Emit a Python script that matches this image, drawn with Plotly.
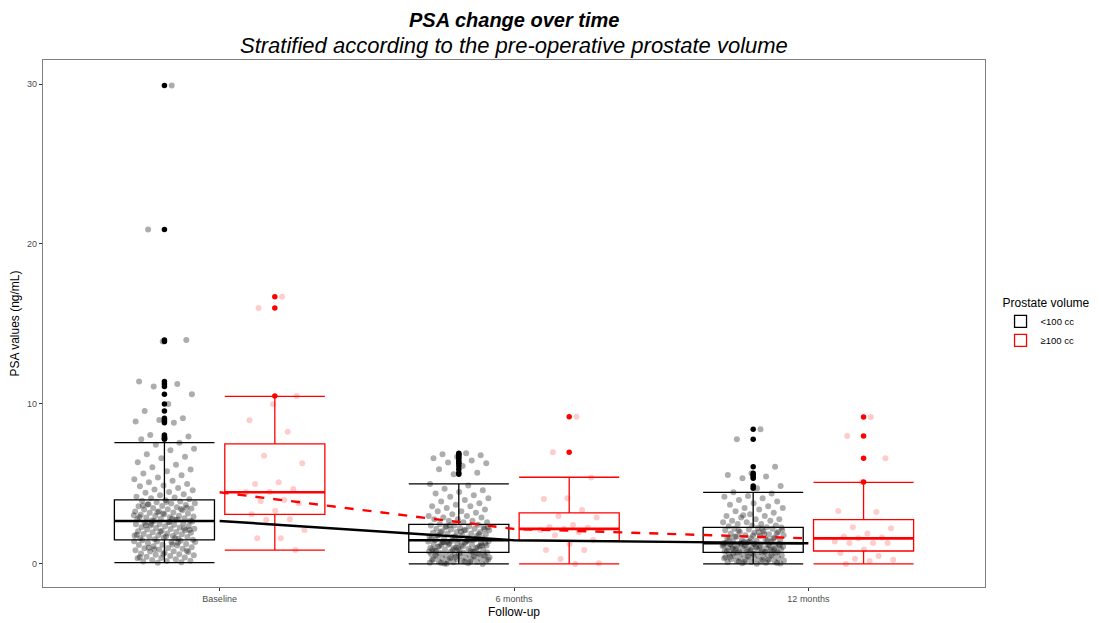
import plotly.graph_objects as go

# ---------------- data ----------------
categories = ["Baseline", "6 months", "12 months"]
groups = ["<100 cc", "≥100 cc"]

# box statistics (per time point)
small_q1 = [1.5, 0.73, 0.73]
small_median = [2.69, 1.48, 1.29]
small_q3 = [4.0, 2.48, 2.29]
small_low = [0.08, 0.0, 0.0]
small_high = [7.58, 5.0, 4.48]

large_q1 = [3.1, 1.46, 0.81]
large_median = [4.48, 2.19, 1.6]
large_q3 = [7.5, 3.19, 2.77]
large_low = [0.87, 0.0, 0.0]
large_high = [10.48, 5.42, 5.1]

# individual PSA values (ng/mL)
small_baseline = [
    29.9, 20.9, 14.0, 13.9, 11.4, 11.25, 11.1, 10.6, 10.0, 9.56, 9.1, 9.0, 8.9, 8.83, 8.06, 7.96, 7.85, 7.8,
    7.58, 7.45, 7.2, 7.1, 6.85, 6.7, 6.6, 6.35, 6.2, 6.05, 5.9, 5.8, 5.65, 5.55, 5.4, 5.3, 5.2, 5.1, 5.0,
    4.9, 4.85, 4.75, 4.65, 4.6, 4.5, 4.45, 4.35, 4.3, 4.2, 4.15, 4.1, 4.05,
    3.98, 3.95, 3.9, 3.85, 3.8, 3.78, 3.72, 3.68, 3.62, 3.6, 3.55, 3.5, 3.46, 3.42, 3.4, 3.35, 3.3, 3.28,
    3.22, 3.2, 3.15, 3.1, 3.08, 3.02, 3.0, 2.96, 2.92, 2.9, 2.86, 2.82, 2.8, 2.76, 2.72, 2.7, 3.88, 3.66,
    3.44, 3.24, 3.04, 2.84, 3.74, 3.52, 3.16, 2.94, 2.78,
    2.68, 2.65, 2.6, 2.58, 2.55, 2.5, 2.48, 2.45, 2.4, 2.38, 2.35, 2.3, 2.28, 2.25, 2.2, 2.18, 2.15, 2.1,
    2.08, 2.05, 2.0, 1.98, 1.95, 1.9, 1.88, 1.85, 1.8, 1.78, 1.75, 1.7, 1.68, 1.65, 1.6, 1.58, 1.55, 1.52,
    2.62, 2.42, 2.22, 2.02, 1.82, 1.62, 2.52, 2.12, 1.72,
    1.48, 1.45, 1.4, 1.38, 1.35, 1.3, 1.25, 1.2, 1.18, 1.15, 1.1, 1.05, 1.0, 0.98, 0.95, 0.9, 0.85, 0.8,
    0.78, 0.75, 0.7, 0.65, 0.6, 0.58, 0.55, 0.5, 0.45, 0.4, 0.38, 0.35, 0.3, 0.25, 0.2, 0.18, 0.15, 0.1,
    0.08, 1.42, 1.22, 1.02, 0.82, 0.62, 0.42, 1.32, 0.92,
]
small_6m = [
    6.92, 6.85, 6.8, 6.7, 6.6, 6.46, 6.34, 6.29, 6.12, 5.92, 5.7, 5.6,
    5.0, 4.9, 4.7, 4.6, 4.5, 4.4, 4.3, 4.2, 4.1, 4.0, 3.9, 3.8, 3.7, 3.6, 3.6, 3.5, 3.4, 3.3, 3.3, 3.2,
    3.1, 3.0, 3.0, 2.9, 2.9, 2.8, 2.8, 2.7, 2.7, 2.6, 2.6, 2.5,
    2.45, 2.4, 2.4, 2.35, 2.3, 2.3, 2.25, 2.2, 2.2, 2.15, 2.1, 2.1, 2.05, 2.0, 2.0, 1.95, 1.9, 1.9, 1.85,
    1.8, 1.8, 1.75, 1.7, 1.7, 1.65, 1.6, 1.6, 1.55, 1.5, 1.5, 2.42, 2.28, 2.12, 1.98, 1.88, 1.72, 1.62,
    1.52, 2.36, 2.18, 2.02, 1.78, 1.58,
    1.45, 1.4, 1.4, 1.35, 1.3, 1.3, 1.25, 1.2, 1.2, 1.15, 1.1, 1.1, 1.05, 1.0, 1.0, 0.95, 0.9, 0.9, 0.85,
    0.8, 0.8, 0.75, 1.42, 1.32, 1.22, 1.12, 1.02, 0.92, 0.82, 1.38, 1.28, 1.18, 1.08, 0.98, 0.88, 0.78,
    1.46, 1.36, 1.16, 0.96, 0.86, 0.76, 1.26,
    0.72, 0.7, 0.68, 0.65, 0.62, 0.6, 0.58, 0.55, 0.52, 0.5, 0.48, 0.45, 0.42, 0.4, 0.38, 0.35, 0.32, 0.3,
    0.28, 0.25, 0.22, 0.2, 0.18, 0.15, 0.12, 0.1, 0.08, 0.05, 0.03, 0.0, 0.66, 0.56, 0.46, 0.36, 0.26,
    0.16, 0.06, 0.64, 0.44, 0.24, 0.14, 0.02, 0.54,
]
small_12m = [
    8.42, 7.8, 6.08, 5.67, 5.56, 5.46, 5.36, 4.88, 4.73,
    4.48, 4.4, 4.25, 4.2, 4.1, 4.0, 3.9, 3.8, 3.7, 3.6, 3.5, 3.5, 3.4, 3.3, 3.2, 3.1, 3.0, 3.0, 2.9, 2.8,
    2.8, 2.7, 2.7, 2.6, 2.6, 2.5, 2.5, 2.4, 2.4, 2.35, 2.3, 3.05,
    2.28, 2.25, 2.2, 2.2, 2.15, 2.1, 2.05, 2.0, 2.0, 1.95, 1.9, 1.85, 1.8, 1.8, 1.75, 1.7, 1.65, 1.6, 1.6,
    1.55, 1.5, 1.5, 1.45, 1.4, 1.4, 1.35, 1.3, 2.22, 2.08, 1.92, 1.78, 1.62, 1.48, 1.38, 2.12, 1.98, 1.72,
    1.58, 1.42, 1.32, 1.88,
    1.28, 1.25, 1.22, 1.2, 1.18, 1.15, 1.12, 1.1, 1.08, 1.05, 1.02, 1.0, 0.98, 0.95, 0.92, 0.9, 0.88, 0.85,
    0.82, 0.8, 0.78, 0.75, 0.74, 1.27, 1.23, 1.17, 1.13, 1.07, 1.03, 0.97, 0.93, 0.87, 0.83, 0.77, 1.26,
    1.16, 1.06, 0.96, 0.86, 0.76, 1.19,
    0.72, 0.7, 0.68, 0.65, 0.62, 0.6, 0.58, 0.55, 0.52, 0.5, 0.48, 0.45, 0.42, 0.4, 0.38, 0.35, 0.32, 0.3,
    0.28, 0.25, 0.22, 0.2, 0.18, 0.15, 0.12, 0.1, 0.08, 0.05, 0.03, 0.01, 0.66, 0.56, 0.46, 0.36, 0.26,
    0.16, 0.06, 0.64, 0.44, 0.24, 0.14,
]
large_baseline = [16.7, 16.0, 10.5, 9.98, 8.98, 8.27, 6.77, 6.29, 5.1, 5.0, 4.69, 4.5, 4.48, 4.0,
                  3.92, 3.79, 3.33, 3.1, 2.79, 2.75, 2.12, 1.6, 1.6, 0.87]
large_6m = [9.2, 6.98, 5.4, 4.1, 4.06, 3.37, 3.0, 2.9, 2.44, 2.31, 2.27, 2.19, 2.12, 1.98, 1.79,
            1.5, 1.25, 0.87, 0.87, 0.31, 0.04, 0.0]
large_12m = [9.19, 8.0, 6.6, 5.12, 3.31, 3.25, 2.29, 2.23, 1.9, 1.71, 1.66, 1.6, 1.4, 1.31, 1.31,
             1.31, 0.9, 0.69, 0.5, 0.33, 0.27, 0.19, 0.0]

small_values = [small_baseline, small_6m, small_12m]
large_values = [large_baseline, large_6m, large_12m]

y_ticks = [0, 10, 20, 30]

# ---------------- styling ----------------
FONT = "Liberation Sans, Arial, sans-serif"
DODGE = 0.1875
BOX_W = 0.34
JIT = 0.105
cat_pos = [1, 2, 3]

series = [
    dict(name=groups[0], color="black", fade="rgba(0,0,0,0.32)",
         q1=small_q1, med=small_median, q3=small_q3, lo=small_low, hi=small_high,
         vals=small_values, shift=-DODGE, dash="solid"),
    dict(name=groups[1], color="red", fade="rgba(255,0,0,0.2)",
         q1=large_q1, med=large_median, q3=large_q3, lo=large_low, hi=large_high,
         vals=large_values, shift=DODGE, dash="dash"),
]

fig = go.Figure()

# boxes
for s in series:
    xs = [p + s["shift"] for p in cat_pos]
    fig.add_trace(go.Box(
        x=xs, q1=s["q1"], median=s["med"], q3=s["q3"],
        lowerfence=s["lo"], upperfence=s["hi"],
        width=BOX_W, whiskerwidth=1, boxpoints=False,
        fillcolor="rgba(255,255,255,0)",
        line=dict(color=s["color"], width=1.3),
        name=s["name"], showlegend=True, hoverinfo="skip",
    ))
    # thicker median bars
    for xc, m in zip(xs, s["med"]):
        fig.add_trace(go.Scatter(
            x=[xc - BOX_W / 2, xc + BOX_W / 2], y=[m, m], mode="lines",
            line=dict(color=s["color"], width=2.6), showlegend=False, hoverinfo="skip"))

# jittered points (deterministic low-discrepancy jitter)
golden = 0.6180339887
for s in series:
    jx, jy = [], []
    for p, vals in zip(cat_pos, s["vals"]):
        for i, v in enumerate(vals):
            frac = ((i + 1) * golden) % 1.0
            jx.append(p + s["shift"] + (frac - 0.5) * 2 * JIT)
            jy.append(v)
    fig.add_trace(go.Scatter(
        x=jx, y=jy, mode="markers",
        marker=dict(color=s["fade"], size=6, line=dict(width=0)),
        showlegend=False, hoverinfo="skip"))

# outliers (values beyond the whiskers) at box centre
for s in series:
    ox, oy = [], []
    for p, vals, lo, hi in zip(cat_pos, s["vals"], s["lo"], s["hi"]):
        for v in vals:
            if v > hi or v < lo:
                ox.append(p + s["shift"])
                oy.append(v)
    fig.add_trace(go.Scatter(
        x=ox, y=oy, mode="markers",
        marker=dict(color=s["color"], size=5.5, line=dict(width=0)),
        showlegend=False, hoverinfo="skip"))

# median trend lines
for s in series:
    fig.add_trace(go.Scatter(
        x=cat_pos, y=s["med"], mode="lines",
        line=dict(color=s["color"], width=2.4, dash=s["dash"]),
        showlegend=False, hoverinfo="skip"))

# titles
fig.add_annotation(text="<b><i>PSA change over time</i></b>", xref="paper", yref="paper",
                   x=0.5, y=1.0759, xanchor="center", yanchor="middle", showarrow=False,
                   font=dict(size=20, color="black", family=FONT))
fig.add_annotation(text="<i>Stratified according to the pre-operative prostate volume</i>",
                   xref="paper", yref="paper", x=0.5, y=1.0266, xanchor="center",
                   yanchor="middle", showarrow=False,
                   font=dict(size=22, color="black", family=FONT))

# the page places the figure 8 px from the top-left corner, so the figure is
# sized to fit the 1099x623 window with the panel where the reference has it
fig.update_layout(
    width=1091, height=615,
    margin=dict(l=35, r=114, t=52, b=36, autoexpand=False),
    paper_bgcolor="white", plot_bgcolor="white",
    font=dict(family=FONT, color="black"),
    boxmode="overlay",
    legend=dict(
        title=dict(text="Prostate volume", font=dict(size=12, color="black")),
        font=dict(size=9.5, color="black"),
        x=1.0165, xanchor="left", y=0.561, yanchor="top",
        bgcolor="rgba(0,0,0,0)", tracegroupgap=2,
    ),
    xaxis=dict(
        range=[0.4, 3.6], tickmode="array", tickvals=cat_pos, ticktext=categories,
        showgrid=False, zeroline=False, showline=True, mirror=True,
        linecolor="#7F7F7F", linewidth=1.2, automargin=False,
        ticks="outside", ticklen=3, tickcolor="#333333",
        tickfont=dict(size=9, color="#4D4D4D"),
        title=dict(text="Follow-up", font=dict(size=12, color="black"), standoff=4),
    ),
    yaxis=dict(
        range=[-1.44, 31.5], tickmode="array", tickvals=y_ticks,
        showgrid=False, zeroline=False, showline=True, mirror=True,
        linecolor="#7F7F7F", linewidth=1.2, automargin=False,
        ticks="outside", ticklen=3, tickcolor="#333333",
        tickfont=dict(size=9, color="#4D4D4D"),
        title=dict(text="PSA values (ng/mL)", font=dict(size=12, color="black"), standoff=4),
    ),
)

fig.write_html("out.html")
